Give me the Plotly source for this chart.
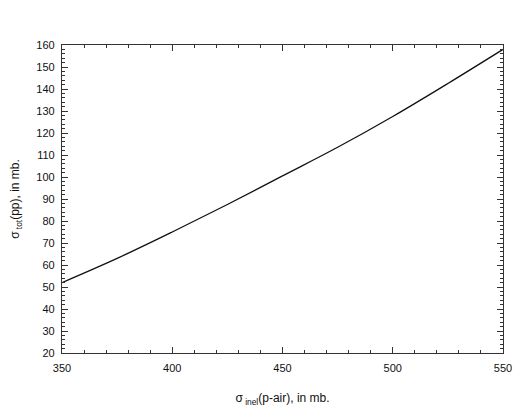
import plotly.graph_objects as go

# sigma_inel(p-air) in mb
sigma_inel = [350, 375, 400, 425, 450, 475, 500, 525, 550]
# sigma_tot(pp) in mb
sigma_tot = [52.0, 63.0, 75.0, 87.5, 100.5, 113.5, 127.5, 142.5, 158.0]

x_ticks = [350, 400, 450, 500, 550]
y_ticks = list(range(20, 161, 10))

fig = go.Figure(go.Scatter(
    x=sigma_inel, y=sigma_tot, mode='lines',
    line=dict(color='#111111', width=1.3, shape='spline'),
))

axis_common = dict(
    showline=True, linecolor='#333333', linewidth=1.2, mirror='allticks',
    ticks='inside', tickcolor='#333333', ticklen=6, tickwidth=1,
    showgrid=False, zeroline=False,
    tickfont=dict(family='Liberation Sans, Arial', size=11, color='#111111'),
)

fig.update_xaxes(
    range=[350, 550], tickvals=x_ticks, ticklabelstandoff=5,
    minor=dict(dtick=10, ticks='inside', ticklen=3, tickcolor='#333333'),
    title=dict(text='σ<sub> inel</sub>(p-air), in mb.',
               font=dict(family='Liberation Sans, Arial', size=12, color='#111111'),
               standoff=20),
    **axis_common,
)
fig.update_yaxes(
    range=[20, 160], tickvals=y_ticks, ticklabelstandoff=4,
    minor=dict(dtick=2, ticks='inside', ticklen=3, tickcolor='#333333'),
    title=dict(text='σ<sub> tot</sub>(pp), in mb.',
               font=dict(family='Liberation Sans, Arial', size=12, color='#111111'),
               standoff=16),
    **axis_common,
)

# the page body adds an 8px offset, so the figure is 8px smaller on each side
fig.update_layout(
    width=518, height=401,
    margin=dict(l=54, r=23, t=37, b=56, autoexpand=False),
    paper_bgcolor='white', plot_bgcolor='white',
    showlegend=False,
)

fig.write_html("out.html")
